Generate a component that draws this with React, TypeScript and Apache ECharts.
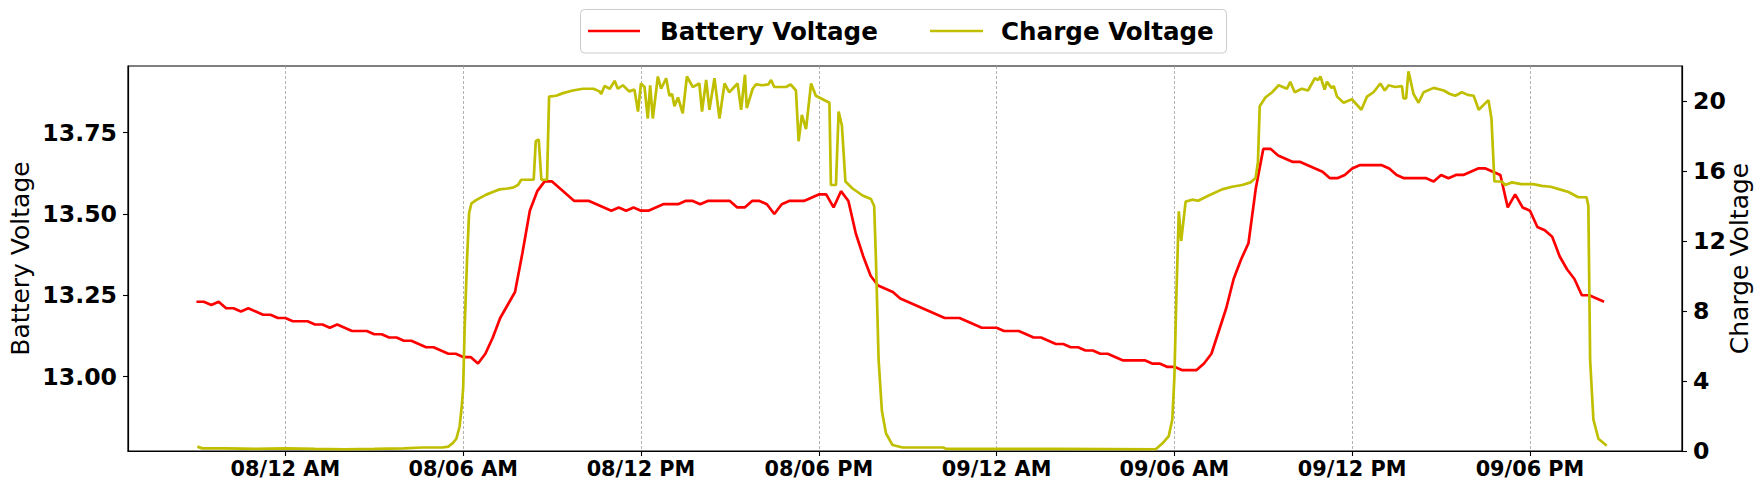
import { useEffect, useRef } from "react";
import * as echarts from "echarts";

// x axis: hours counted from 08 00:00
const xTickHours = [0, 6, 12, 18, 24, 30, 36, 42];
const xTickLabels = ["08/12 AM", "08/06 AM", "08/12 PM", "08/06 PM", "09/12 AM", "09/06 AM", "09/12 PM", "09/06 PM"];
const batteryTicks = [13.0, 13.25, 13.5, 13.75];
const chargeTicks = [0, 4, 8, 12, 16, 20];

const seriesNames = ["Battery Voltage", "Charge Voltage"];

// Battery voltage, sampled every 15 minutes from 07 21:00
const batteryStartHour = -3;
const batteryStepHours = 0.25;
const batteryVoltage = [
  // 07 21:00 - 08 05:45
  13.23, 13.23, 13.22, 13.23, 13.21, 13.21, 13.2, 13.21, 13.2, 13.19, 13.19, 13.18,
  13.18, 13.17, 13.17, 13.17, 13.16, 13.16, 13.15, 13.16, 13.15, 13.14, 13.14, 13.14,
  13.13, 13.13, 13.12, 13.12, 13.11, 13.11, 13.1, 13.09, 13.09, 13.08, 13.07, 13.07,
  // 08 06:00 - 11:45
  13.06, 13.06, 13.04, 13.07, 13.12, 13.18, 13.22, 13.26, 13.38, 13.51, 13.57, 13.6,
  13.6, 13.58, 13.56, 13.54, 13.54, 13.54, 13.53, 13.52, 13.51, 13.52, 13.51, 13.52,
  // 08 12:00 - 17:45
  13.51, 13.51, 13.52, 13.53, 13.53, 13.53, 13.54, 13.54, 13.53, 13.54, 13.54, 13.54,
  13.54, 13.52, 13.52, 13.54, 13.54, 13.53, 13.5, 13.53, 13.54, 13.54, 13.54, 13.55,
  // 08 18:00 - 23:45
  13.56, 13.56, 13.52, 13.57, 13.54, 13.44, 13.37, 13.31, 13.28, 13.27, 13.26, 13.24,
  13.23, 13.22, 13.21, 13.2, 13.19, 13.18, 13.18, 13.18, 13.17, 13.16, 13.15, 13.15,
  // 09 00:00 - 05:45
  13.15, 13.14, 13.14, 13.14, 13.13, 13.12, 13.12, 13.11, 13.1, 13.1, 13.09, 13.09,
  13.08, 13.08, 13.07, 13.07, 13.06, 13.05, 13.05, 13.05, 13.05, 13.04, 13.04, 13.03,
  // 09 06:00 - 11:45
  13.03, 13.02, 13.02, 13.02, 13.04, 13.07, 13.14, 13.21, 13.3, 13.36, 13.41, 13.58,
  13.7, 13.7, 13.68, 13.67, 13.66, 13.66, 13.65, 13.64, 13.63, 13.61, 13.61, 13.62,
  // 09 12:00 - 17:45
  13.64, 13.65, 13.65, 13.65, 13.65, 13.64, 13.62, 13.61, 13.61, 13.61, 13.61, 13.6,
  13.62, 13.61, 13.62, 13.62, 13.63, 13.64, 13.64, 13.63, 13.62, 13.52, 13.56, 13.52,
  // 09 18:00 - 20:30
  13.51, 13.46, 13.45, 13.43, 13.37, 13.33, 13.3, 13.25, 13.25, 13.24, 13.23,
];

// Charge voltage: [hour from 08 00:00, volts]
const chargeVoltage: [number, number][] = [
  [-2.97, 0.25], [-2.8, 0.15], [-2, 0.15], [-1, 0.12], [0, 0.15], [1, 0.12], [2, 0.1], [3, 0.12],
  [4, 0.15], [4.6, 0.2], [5.3, 0.2], [5.5, 0.25], [5.65, 0.45], [5.77, 0.7], [5.88, 1.4], [5.95, 2.5],
  [6.0, 3.6], [6.05, 7.0], [6.13, 10.9], [6.2, 13.6], [6.28, 14.15], [6.45, 14.35], [6.78, 14.65],
  [7.0, 14.8], [7.23, 14.95], [7.5, 15.0], [7.68, 15.05], [7.85, 15.2], [7.96, 15.5], [8.38, 15.5],
  [8.45, 17.7], [8.55, 17.8], [8.64, 15.5], [8.83, 15.5], [8.9, 20.25], [9.14, 20.3], [9.37, 20.45],
  [9.7, 20.6], [10.04, 20.7], [10.4, 20.7], [10.6, 20.55], [10.66, 20.4], [10.77, 20.86], [10.95, 20.7],
  [11.11, 21.15], [11.22, 20.7], [11.39, 20.9], [11.6, 20.55], [11.78, 20.65], [11.9, 19.4], [12.0, 21.0],
  [12.12, 20.8], [12.23, 19.0], [12.31, 20.9], [12.4, 19.0], [12.57, 21.4], [12.68, 20.7], [12.85, 21.3],
  [12.96, 20.3], [13.05, 20.4], [13.13, 19.7], [13.25, 20.2], [13.41, 19.3], [13.55, 21.4], [13.75, 20.8],
  [13.97, 21.0], [14.06, 19.4], [14.2, 21.2], [14.31, 19.5], [14.48, 21.3], [14.65, 19.0], [14.82, 21.0],
  [14.98, 20.5], [15.26, 21.0], [15.38, 19.5], [15.51, 21.5], [15.57, 19.6], [15.77, 20.7], [15.88, 20.95],
  [16.1, 20.9], [16.3, 20.95], [16.39, 21.2], [16.5, 20.8], [16.7, 20.8], [16.9, 20.8], [17.05, 20.95],
  [17.23, 20.6], [17.32, 17.7], [17.43, 19.2], [17.57, 18.4], [17.74, 21.0], [17.9, 20.3], [18.13, 20.1],
  [18.36, 19.9], [18.41, 15.2], [18.58, 15.2], [18.67, 19.4], [18.78, 18.6], [18.9, 15.4], [19.14, 15.0],
  [19.48, 14.6], [19.76, 14.4], [19.87, 14.0], [19.93, 10.9], [20.02, 5.2], [20.13, 2.3], [20.27, 1.0],
  [20.49, 0.34], [20.83, 0.2], [22.2, 0.2], [22.3, 0.12], [26, 0.12], [29.37, 0.1], [29.6, 0.44],
  [29.81, 0.85], [29.93, 1.8], [30.0, 4.2], [30.07, 9.0], [30.15, 13.7], [30.23, 12.0], [30.38, 14.25],
  [30.6, 14.36], [30.8, 14.3], [31.16, 14.6], [31.61, 14.95], [31.95, 15.1], [32.29, 15.2], [32.57, 15.35],
  [32.74, 15.6], [32.82, 16.5], [32.88, 19.7], [33.07, 20.2], [33.3, 20.5], [33.52, 20.9], [33.8, 20.7],
  [33.91, 21.1], [34.06, 20.5], [34.3, 20.7], [34.51, 20.6], [34.74, 21.3], [34.85, 21.2], [34.93, 21.4],
  [35.07, 20.65], [35.15, 21.1], [35.3, 20.75], [35.38, 20.85], [35.49, 20.25], [35.71, 19.9], [35.99, 20.1],
  [36.31, 19.5], [36.5, 20.25], [36.72, 20.5], [36.95, 21.0], [37.1, 20.6], [37.23, 20.9], [37.45, 20.8],
  [37.68, 20.85], [37.73, 20.15], [37.82, 20.15], [37.9, 21.7], [38.07, 20.4], [38.24, 19.9], [38.41, 20.5],
  [38.75, 20.75], [39.09, 20.6], [39.3, 20.4], [39.48, 20.3], [39.7, 20.5], [39.9, 20.35], [40.1, 20.3],
  [40.27, 19.5], [40.6, 20.05], [40.7, 19.0], [40.8, 15.4], [41.05, 15.4], [41.16, 15.2], [41.39, 15.35],
  [41.7, 15.25], [42.1, 15.25], [42.4, 15.15], [42.7, 15.1], [43.0, 14.95], [43.3, 14.8], [43.63, 14.5],
  [43.91, 14.5], [43.97, 14.0], [44.03, 5.2], [44.14, 1.8], [44.31, 0.7], [44.59, 0.3],
];

const FONT = '"DejaVu Sans", "Liberation Sans", sans-serif';
const RED = "#ff0000";
const YELLOW = "#bfbf00";
const LINE_WIDTH = 2.7;

export default function App() {
  const ref = useRef<HTMLDivElement>(null);

  useEffect(() => {
    if (!ref.current) return;
    const chart = echarts.init(ref.current, null, { renderer: "svg" });

    const batteryData = batteryVoltage.map((v, i) => [batteryStartHour + i * batteryStepHours, v]);
    const xLabel = (v: number) => {
      const idx = xTickHours.findIndex((h) => Math.abs(h - v) < 1e-6);
      return idx >= 0 ? xTickLabels[idx] : "";
    };

    const tickStyle = { color: "#000", width: 1.1 };
    const yLabelStyle = { fontSize: 23.6, fontWeight: "bold" as const, color: "#000", fontFamily: FONT, margin: 11 };
    const nameStyle = { fontSize: 25, fontWeight: "normal" as const, color: "#000", fontFamily: FONT };

    chart.setOption({
      animation: false,
      backgroundColor: "#ffffff",
      textStyle: { fontFamily: FONT },
      grid: {
        left: 128,
        right: 80,
        top: 66,
        bottom: 40,
        show: true,
        borderColor: "#000",
        borderWidth: 1.2,
        backgroundColor: "transparent",
        containLabel: false,
        outerBoundsMode: "none",
      },
      xAxis: {
        type: "value",
        min: -5.31,
        max: 47.13,
        axisLine: { show: true, onZero: false, lineStyle: { color: "#000", width: 1.2 } },
        axisTick: { show: true, customValues: xTickHours, length: 5, lineStyle: tickStyle },
        axisLabel: {
          customValues: xTickHours,
          formatter: xLabel,
          fontSize: 20.8,
          fontWeight: "bold",
          color: "#000",
          fontFamily: FONT,
          margin: 7,
        },
        splitLine: { show: true, lineStyle: { color: "#a0a0a0", type: [3, 2], width: 0.8 } },
      },
      yAxis: [
        {
          type: "value",
          position: "left",
          min: 12.771,
          max: 13.955,
          name: seriesNames[0],
          nameLocation: "middle",
          nameGap: 95,
          nameRotate: 90,
          nameMoveOverlap: false,
          nameTextStyle: nameStyle,
          axisLine: { show: true, onZero: false, lineStyle: { color: "#000", width: 1.2 } },
          axisTick: { show: true, customValues: batteryTicks, length: 5, lineStyle: tickStyle },
          axisLabel: { ...yLabelStyle, customValues: batteryTicks, formatter: (v: number) => v.toFixed(2) },
          splitLine: { show: false },
        },
        {
          type: "value",
          position: "right",
          min: 0,
          max: 22,
          name: seriesNames[1],
          nameLocation: "middle",
          nameGap: 44.5,
          nameRotate: 90,
          nameMoveOverlap: false,
          nameTextStyle: nameStyle,
          axisLine: { show: true, onZero: false, lineStyle: { color: "#000", width: 1.2 } },
          axisTick: { show: true, customValues: chargeTicks, length: 5, lineStyle: tickStyle },
          axisLabel: { ...yLabelStyle, customValues: chargeTicks, formatter: (v: number) => String(v) },
          splitLine: { show: false },
        },
      ],
      series: [
        {
          name: seriesNames[0],
          type: "line",
          yAxisIndex: 0,
          data: batteryData,
          showSymbol: false,
          symbol: "none",
          lineStyle: { color: RED, width: LINE_WIDTH },
          itemStyle: { color: RED },
          z: 2,
        },
        {
          name: seriesNames[1],
          type: "line",
          yAxisIndex: 1,
          data: chargeVoltage,
          showSymbol: false,
          symbol: "none",
          lineStyle: { color: YELLOW, width: LINE_WIDTH },
          itemStyle: { color: YELLOW },
          z: 3,
        },
      ],
      graphic: [
        {
          type: "rect",
          shape: { x: 580.5, y: 9.5, width: 646, height: 43.5, r: 4 },
          style: { fill: "rgba(255,255,255,0.8)", stroke: "#cccccc", lineWidth: 1 },
          z: 10,
        },
        {
          type: "line",
          shape: { x1: 588, y1: 31, x2: 640, y2: 31 },
          style: { stroke: RED, lineWidth: LINE_WIDTH },
          z: 11,
        },
        {
          type: "text",
          x: 660,
          y: 31,
          style: {
            text: seriesNames[0],
            fill: "#000",
            fontSize: 24.6,
            fontWeight: "bold",
            fontFamily: FONT,
            verticalAlign: "middle",
            align: "left",
          },
          z: 11,
        },
        {
          type: "line",
          shape: { x1: 930, y1: 31, x2: 983, y2: 31 },
          style: { stroke: YELLOW, lineWidth: LINE_WIDTH },
          z: 11,
        },
        {
          type: "text",
          x: 1001,
          y: 31,
          style: {
            text: seriesNames[1],
            fill: "#000",
            fontSize: 24.6,
            fontWeight: "bold",
            fontFamily: FONT,
            verticalAlign: "middle",
            align: "left",
          },
          z: 11,
        },
      ],
    });

    return () => chart.dispose();
  }, []);

  return (
    <div
      ref={ref}
      style={{ position: "fixed", left: 0, top: 0, width: 1762, height: 491, background: "#ffffff" }}
    />
  );
}
